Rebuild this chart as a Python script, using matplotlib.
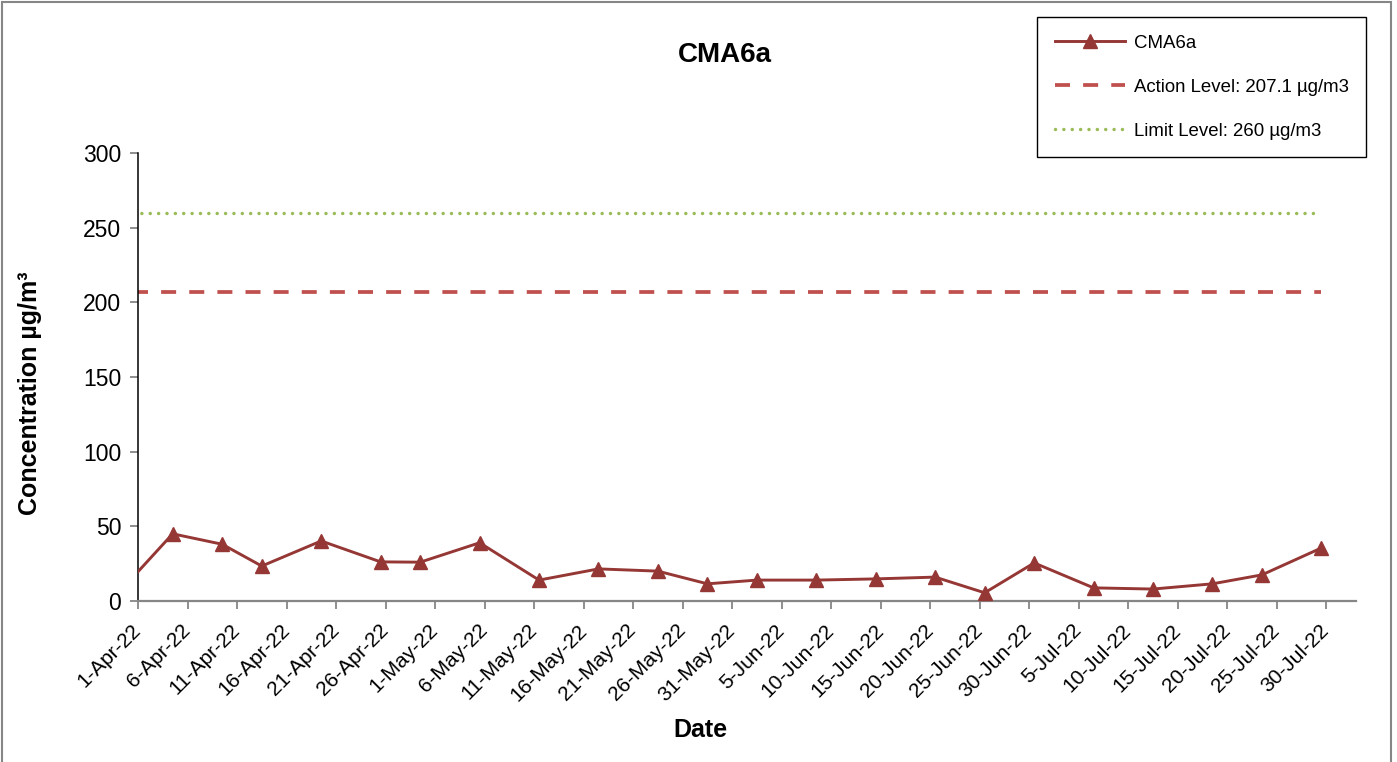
import matplotlib
matplotlib.use("Agg")
import matplotlib.pyplot as plt
import matplotlib.dates as mdates
import matplotlib.ticker as mticker
from matplotlib.patches import Rectangle
import pandas as pd

plt.rcParams['font.family'] = ['Liberation Sans', 'DejaVu Sans']

# sampling dates and 24-hr TSP values
dates = ['2022-03-31', '2022-04-04', '2022-04-09', '2022-04-13', '2022-04-19',
         '2022-04-25', '2022-04-29', '2022-05-05', '2022-05-11', '2022-05-17',
         '2022-05-23', '2022-05-28', '2022-06-02', '2022-06-08', '2022-06-14',
         '2022-06-20', '2022-06-25', '2022-06-30', '2022-07-06', '2022-07-12',
         '2022-07-18', '2022-07-23', '2022-07-29']
values = [16, 45, 38, 23.4, 40.2, 26.2, 26, 39, 14, 21.5, 20, 11.5, 14, 14,
          14.8, 16, 5.5, 25.5, 8.8, 8, 11.5, 17.5, 35.5]
action_level = 207.1
limit_level = 260
series_name = 'CMA6a'
x_start = '2022-04-01'
x_end = '2022-08-02'
last_tick = '2022-07-30'
tick_step_days = 5

x = pd.to_datetime(dates) + pd.Timedelta(hours=12)  # excel puts points mid-day

fig = plt.figure(figsize=(13.97, 7.62), dpi=100)
ax = fig.add_axes([138/1397, 1-601/762, (1356-138)/1397, (601-153)/762])

ax.plot(x, values, color='#953735', lw=2.1, marker='^', markersize=10.5,
        markevery=slice(1, None), label=series_name, zorder=3)
ax.plot(x, [action_level]*len(x), color='#C0504D', lw=2.7,
        linestyle=(0, (4.0, 3.5)), label='Action Level: 207.1 µg/m3')
ax.plot(x, [limit_level]*len(x), color='#9BBB59', lw=2.5,
        linestyle=(0, (0.01, 2.4)), dash_capstyle='round',
        label='Limit Level: 260 µg/m3')

ax.set_xlim(pd.Timestamp(x_start), pd.Timestamp(x_end))
ax.set_ylim(0, 300)
ax.yaxis.set_major_locator(mticker.MultipleLocator(50))
ticks = pd.date_range(x_start, last_tick, freq=f'{tick_step_days}D')
ax.set_xticks(ticks)
ax.xaxis.set_major_formatter(mticker.FuncFormatter(
    lambda v, p: (lambda d: f"{d.day}-{d:%b-%y}")(mdates.num2date(v))))

for s in ['top', 'right']:
    ax.spines[s].set_visible(False)
ax.spines['left'].set_color('black')
ax.spines['left'].set_linewidth(1.1)
ax.spines['bottom'].set_color('#868686')
ax.spines['bottom'].set_linewidth(1.6)
ax.tick_params(axis='y', direction='out', length=6, width=1.3, color='#868686',
               labelsize=16.5, pad=6)
ax.tick_params(axis='x', direction='out', length=6, width=1.3, color='#868686',
               labelsize=15, pad=13)
for lab in ax.get_xticklabels():
    lab.set_rotation(45)
    lab.set_ha('right')
    lab.set_va('center')
    lab.set_rotation_mode('anchor')

fig.text(725/1397, 1-55/762, 'CMA6a', fontsize=20, fontweight='bold',
         ha='center', va='center')
fig.text(700/1397, 1-730/762, 'Date', fontsize=18, fontweight='bold',
         ha='center', va='center')
fig.text(30/1397, 1-393/762, 'Concentration µg/m³', fontsize=18,
         fontweight='bold', ha='center', va='center', rotation=90)

leg = ax.legend(loc='upper left', bbox_to_anchor=(1037/1397, 1-17/762),
                bbox_transform=fig.transFigure, borderaxespad=0, fontsize=13.4,
                handlelength=3.8, handletextpad=0.45, labelspacing=1.45,
                borderpad=0.95, fancybox=False, framealpha=1)
leg.get_frame().set_edgecolor('black')
leg.get_frame().set_linewidth(1.0)

fig.patches.append(Rectangle((1.5/1397, -0.01), 1389/1397, 1.01-1.5/762,
                             transform=fig.transFigure, fill=False,
                             edgecolor='#868686', lw=1.5))

fig.savefig('out.png', dpi=100)
